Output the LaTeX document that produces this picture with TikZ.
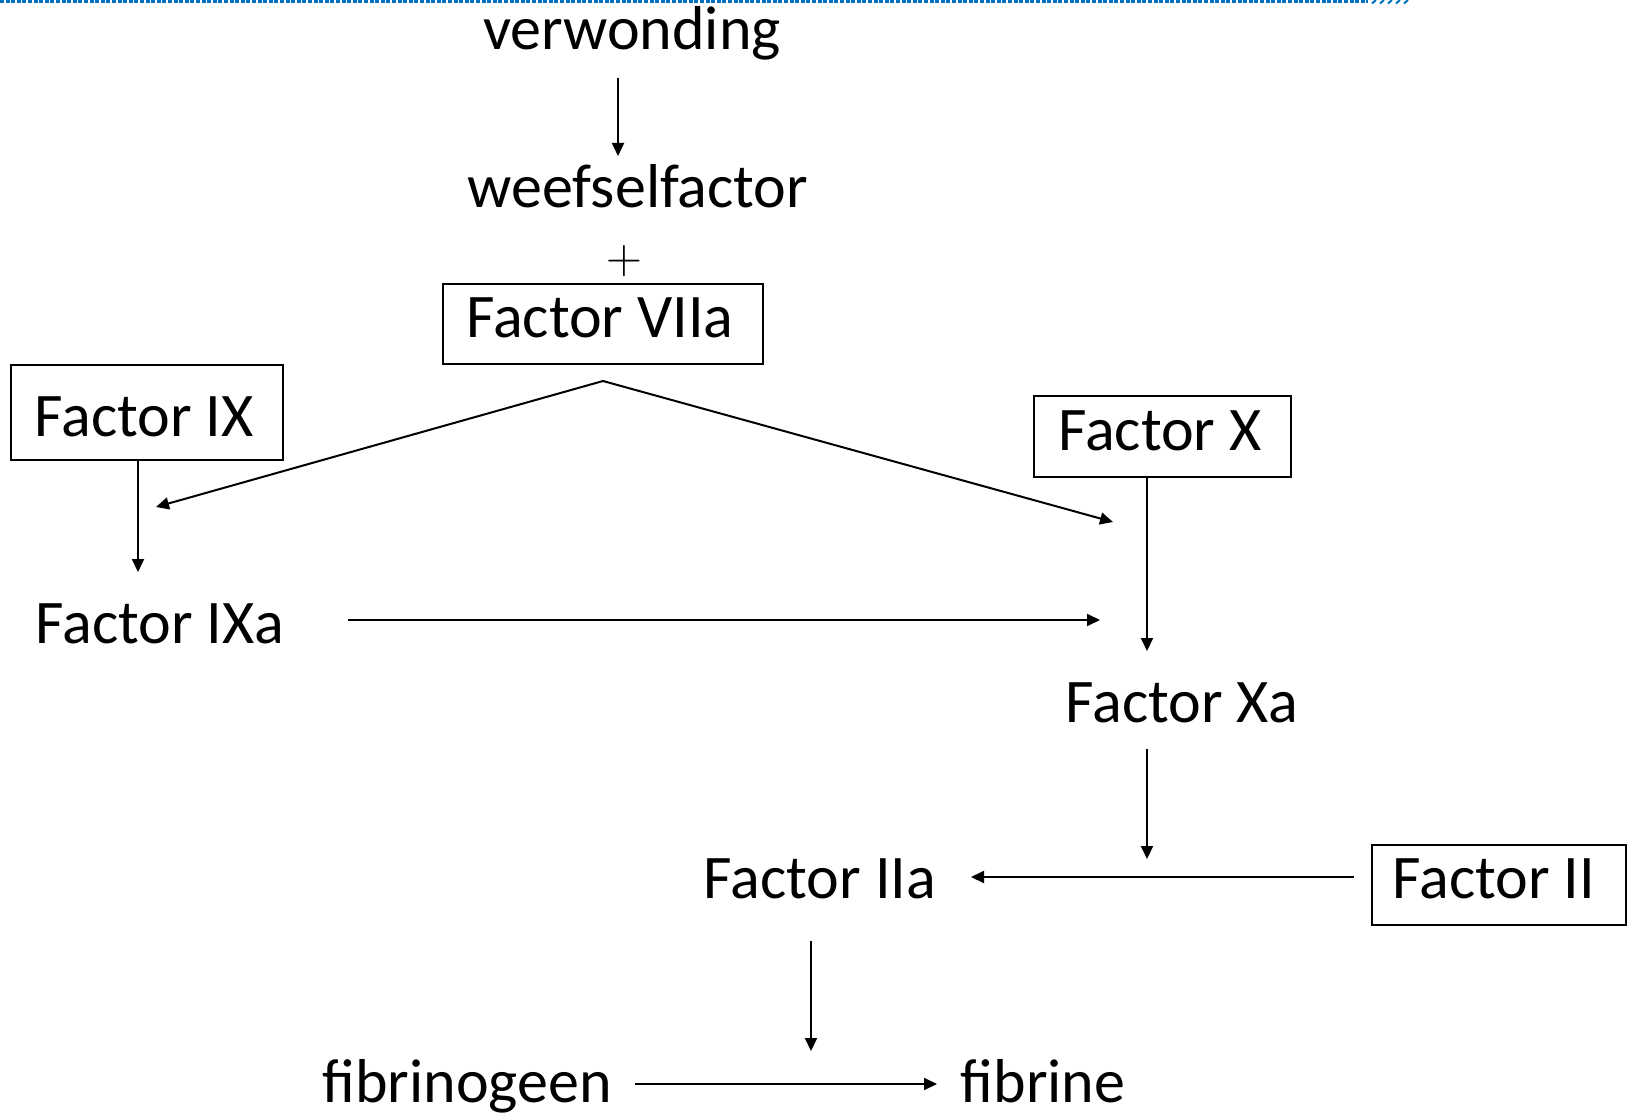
\documentclass[tikz,border=0pt]{standalone}
\usepackage{fontspec}
\setmainfont{Carlito}
\usetikzlibrary{arrows.meta}
\definecolor{topblue}{RGB}{0,112,192}
\tikzset{
  txt/.style={anchor=base, inner sep=0pt, font=\fontsize{31}{36}\selectfont},
  boxst/.style={draw, line width=1pt, inner sep=0pt},
  arr/.style={line width=1pt, -{Triangle[length=6.5pt,width=6pt]}},
  ln/.style={line width=1pt}
}
\begin{document}
\begin{tikzpicture}[x=0.5pt,y=-0.5pt]
\useasboundingbox (0,0) rectangle (1627,1117);
% top decorative bar
\draw[topblue, line width=1.6pt, dash pattern=on 2pt off 0.8pt] (0,1.6) -- (1368,1.6);
\foreach \x in {1372,1380,...,1404} \draw[topblue, line width=1pt] (\x,3.5) -- (\x+4,0);

% texts
\node[txt] (verw) at (632,50) {verwonding};
\node[txt] (weef) at (638,208) {weefselfactor};
\node[inner sep=0pt, font=\fontsize{29}{32}\selectfont] (plus) at (624,261) {$+$};
\node[txt] (viia) at (600,338) {Factor VIIa};
\node[txt] (ix) at (144,437) {Factor IX};
\node[txt] (ixa) at (160,643) {Factor IXa};
\node[txt] (x) at (1160,451) {Factor X};
\node[txt] (xa) at (1182,722) {Factor Xa};
\node[txt] (ii) at (1494,898) {Factor II};
\node[txt] (iia) at (820,898) {Factor IIa};
\node[txt] (fgen) at (467,1102) {fibrinogeen};
\node[txt] (fib) at (1043,1102) {fibrine};

% boxes
\node[boxst, minimum width=160pt, minimum height=40pt] (viib) at (603,324.5) {};
\node[boxst, minimum width=136pt, minimum height=47.5pt] (ixb) at (147,412.5) {};
\node[boxst, minimum width=128.5pt, minimum height=40pt] (xb) at (1162.5,436.5) {};
\node[boxst, minimum width=127pt, minimum height=40pt] (iib) at (1499,884.5) {};

% connector end points
\coordinate (a1s) at (618,78);
\coordinate (a1e) at (618,156);
\coordinate (apex) at (603,381);
\coordinate (lt) at (156,507);
\coordinate (rt) at (1113,522);
\coordinate (ixs) at (138,460);
\coordinate (ixe) at (138,572);
\coordinate (ixas) at (348,620);
\coordinate (ixae) at (1100,620);
\coordinate (xs) at (1147,476);
\coordinate (xe) at (1147,651);
\coordinate (xas) at (1147,749);
\coordinate (xae) at (1147,859);
\coordinate (iis) at (1354,877);
\coordinate (iie) at (971,877);
\coordinate (iias) at (811,941);
\coordinate (iiae) at (811,1051);
\coordinate (fs) at (635,1084);
\coordinate (fe) at (937,1084);

% connectors
\draw[arr] (a1s) -- (a1e);
\draw[arr] (apex) -- (lt);
\draw[arr] (apex) -- (rt);
\draw[arr] (ixs) -- (ixe);
\draw[arr] (ixas) -- (ixae);
\draw[arr] (xs) -- (xe);
\draw[arr] (xas) -- (xae);
\draw[arr] (iis) -- (iie);
\draw[arr] (iias) -- (iiae);
\draw[arr] (fs) -- (fe);
\end{tikzpicture}
\end{document}
